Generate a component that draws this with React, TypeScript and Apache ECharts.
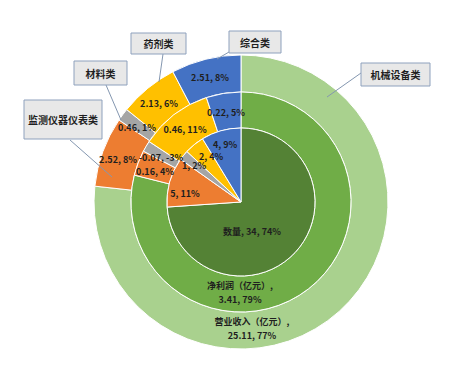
import React, { useEffect, useRef } from "react";
import * as echarts from "echarts";

const categories = ["机械设备类", "监测仪器仪表类", "材料类", "药剂类", "综合类"];
const revenue = [25.11, 2.52, 0.46, 2.13, 2.51];
const revenuePct = ["77%", "8%", "1%", "6%", "8%"];
const profit = [3.41, 0.16, -0.07, 0.46, 0.22];
const profitPct = ["79%", "4%", "-3%", "11%", "5%"];
const counts = [34, 5, 1, 2, 4];
const countPct = ["74%", "11%", "2%", "4%", "9%"];
const seriesNames = ["营业收入（亿元）", "净利润（亿元）", "数量"];

const CENTER: [number, number] = [241, 202];
const baseColors = ["#A9D18E", "#ED7D31", "#A5A5A5", "#FFC000", "#4472C4"];
const greenShades = ["#A9D18E", "#70AD47", "#548235"];

// label anchor positions (layout only), per ring [outer, middle, inner]
const LABEL_POS: number[][][] = [
  [[252, 328], [118, 159], [137, 127], [159, 103], [210, 77]],
  [[240, 292], [155, 171], [161, 157], [185, 129], [226, 112]],
  [[252, 231], [185, 193], [194, 165], [211, 156], [225, 144]],
];

// callout boxes: [x, y, w, h, lineX1, lineY1, lineX2, lineY2]
const CALLOUTS: number[][] = [
  [361, 63, 69, 23, 361, 73, 327, 97],
  [24, 100, 78, 39, 70, 140, 112, 177],
  [74, 61, 53, 24, 106, 85, 121, 120],
  [131, 33, 55, 21, 163, 54, 159, 82],
  [229, 31, 52, 22, 229, 52, 217, 59],
];

export default function App() {
  const ref = useRef<HTMLDivElement>(null);
  useEffect(() => {
    if (!ref.current) return;
    const chart = echarts.init(ref.current, null, { renderer: "svg" });
    const rings = [
      { values: revenue, pct: revenuePct, radius: [110, 147] },
      { values: profit, pct: profitPct, radius: [74, 110] },
      { values: counts, pct: countPct, radius: [0, 74] },
    ];
    const series = rings.map((ring, ri) => ({
      type: "pie",
      name: seriesNames[ri],
      center: CENTER,
      radius: ring.radius,
      startAngle: 90,
      clockwise: true,
      avoidLabelOverlap: false,
      silent: true,
      itemStyle: { borderColor: "#ffffff", borderWidth: 1 },
      label: {
        show: true,
        position: "inside",
        fontSize: 9,
        fontWeight: "bold",
        color: "#1f1f1f",
        fontFamily: "'Noto Sans CJK SC', 'Noto Sans', sans-serif",
        lineHeight: 14,
        align: "center",
      },
      labelLine: { show: false },
      labelLayout: (p: any) => {
        const pos = LABEL_POS[ri][p.dataIndex];
        return { x: pos[0], y: pos[1], align: "center", verticalAlign: "middle" };
      },
      data: ring.values.map((v, i) => {
        const txt = i === 0
          ? (ri === 2 ? `${seriesNames[ri]}, ${v}, ${ring.pct[i]}` : `${seriesNames[ri]},\n${v}, ${ring.pct[i]}`)
          : `${v}, ${ring.pct[i]}`;
        return {
          name: categories[i],
          value: Math.abs(v),
          itemStyle: { color: i === 0 ? greenShades[ri] : baseColors[i] },
          label: { formatter: txt },
        };
      }),
    }));

    const graphic: any[] = [];
    CALLOUTS.forEach((c, i) => {
      graphic.push({
        type: "line",
        shape: { x1: c[4], y1: c[5], x2: c[6], y2: c[7] },
        style: { stroke: "#8497B0", lineWidth: 1 },
        z: 10,
      });
      graphic.push({
        type: "rect",
        shape: { x: c[0], y: c[1], width: c[2], height: c[3] },
        style: { fill: "#E8E8E8", stroke: "#8EA1BD", lineWidth: 1 },
        z: 10,
      });
      graphic.push({
        type: "text",
        x: c[0] + c[2] / 2,
        y: c[1] + c[3] / 2,
        style: {
          text: categories[i],
          fill: "#1f1f1f",
          font: "bold 10px 'Noto Sans CJK SC', sans-serif",
          textAlign: "center",
          textVerticalAlign: "middle",
        },
        z: 11,
      });
    });

    chart.setOption({
      animation: false,
      backgroundColor: "#ffffff",
      series,
      graphic,
    });
    return () => chart.dispose();
  }, []);
  return (
    <div
      ref={ref}
      style={{ position: "fixed", left: 0, top: 0, width: 459, height: 368 }}
    />
  );
}
